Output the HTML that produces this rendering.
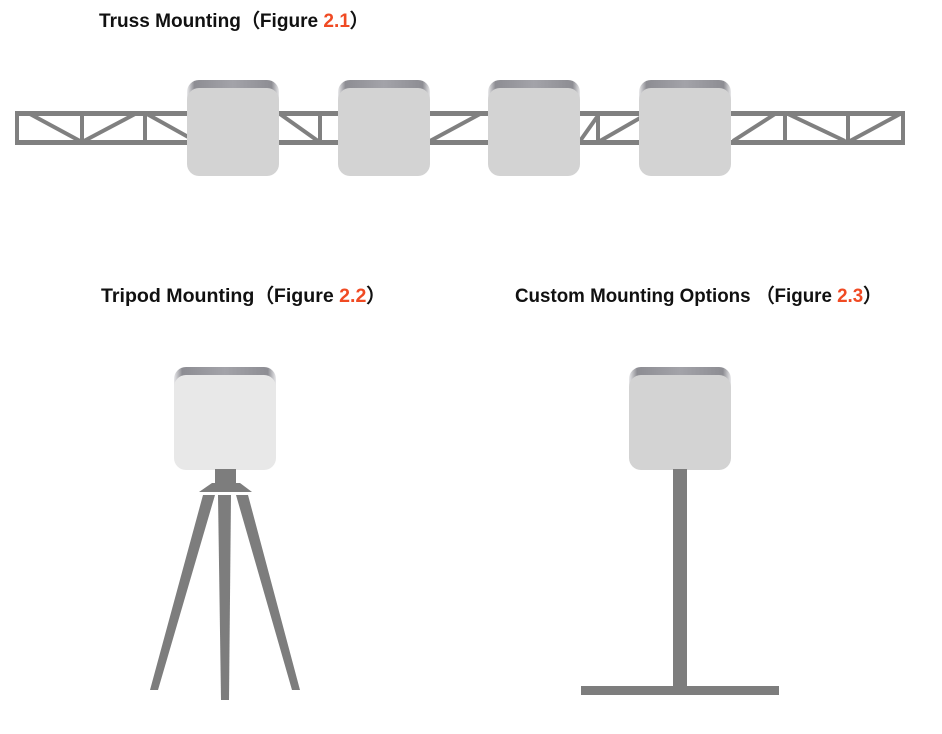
<!DOCTYPE html>
<html><head><meta charset="utf-8"><style>
body{margin:0;background:#fff;width:942px;height:729px;overflow:hidden}
.t{font-family:"Liberation Sans Narrow","Liberation Sans",sans-serif;font-weight:bold;font-size:19px;fill:#111}
.r{fill:#f04a23}
</style></head><body>
<svg width="942" height="729" viewBox="0 0 942 729">
<defs>
<linearGradient id="m" x1="0" y1="0" x2="1" y2="0">
<stop offset="0" stop-color="#e8e8ea"/><stop offset="0.08" stop-color="#8d8d93"/><stop offset="0.5" stop-color="#a3a3a9"/><stop offset="0.92" stop-color="#8d8d93"/><stop offset="1" stop-color="#e8e8ea"/>
</linearGradient>
<g id="dev">
<rect x="0" y="0" width="92" height="30" rx="12" fill="url(#m)"/>
<rect x="0" y="8" width="92" height="88" rx="12" fill="#d3d3d3"/>
</g>
<g id="devl">
<rect x="0" y="0" width="102" height="30" rx="12" fill="url(#m)"/>
<rect x="0" y="8" width="102" height="95" rx="12" fill="#e8e8e8"/>
</g>
<g id="devc">
<rect x="0" y="0" width="102" height="30" rx="12" fill="url(#m)"/>
<rect x="0" y="8" width="102" height="95" rx="12" fill="#d3d3d3"/>
</g>
</defs>
<text class="t" x="99" y="27" textLength="270" lengthAdjust="spacingAndGlyphs">Truss Mounting（Figure <tspan class="r">2.1</tspan>）</text>
<text class="t" x="101" y="302" textLength="285" lengthAdjust="spacingAndGlyphs">Tripod Mounting（Figure <tspan class="r">2.2</tspan>）</text>
<text class="t" x="515" y="302" textLength="367" lengthAdjust="spacingAndGlyphs">Custom Mounting Options （Figure <tspan class="r">2.3</tspan>）</text>
<!-- truss -->
<g fill="#808080" stroke="none">
<rect x="15" y="111" width="890" height="5"/>
<rect x="15" y="140" width="890" height="5"/>
<rect x="15" y="111" width="4" height="34"/>
<rect x="901" y="111" width="4" height="34"/>
</g>
<g stroke="#808080" stroke-width="4">
<line x1="82" y1="113" x2="82" y2="143"/><line x1="145" y1="113" x2="145" y2="143"/>
<line x1="320" y1="113" x2="320" y2="143"/><line x1="598" y1="113" x2="598" y2="143"/>
<line x1="785" y1="113" x2="785" y2="143"/><line x1="848" y1="113" x2="848" y2="143"/>
<line x1="30" y1="114" x2="80" y2="141"/>
<line x1="84" y1="141" x2="135" y2="114"/>
<line x1="147" y1="114" x2="190" y2="138"/>
<line x1="280" y1="114" x2="318" y2="141"/>
<line x1="430" y1="141" x2="480" y2="114"/>
<line x1="580" y1="141" x2="597" y2="117"/>
<line x1="600" y1="141" x2="640" y2="118"/>
<line x1="733" y1="141" x2="775" y2="114"/>
<line x1="788" y1="114" x2="845" y2="141"/>
<line x1="850" y1="141" x2="900" y2="114"/>
</g>
<use href="#dev" x="187" y="80"/>
<use href="#dev" x="338" y="80"/>
<use href="#dev" x="488" y="80"/>
<use href="#dev" x="639" y="80"/>
<!-- tripod -->
<use href="#devl" x="174" y="367"/>
<g fill="#7d7d7d">
<rect x="215" y="469" width="21" height="18"/>
<polygon points="212,483 240,483 252,492 199,492"/>
<polygon points="218,495 231,495 229,700 221,700"/>
<polygon points="203,495 215,495 158,690 150,690"/>
<polygon points="236,495 248,495 300,690 292,690"/>
</g>
<!-- custom -->
<use href="#devc" x="629" y="367"/>
<g fill="#7d7d7d">
<rect x="673" y="469" width="14" height="220"/>
<rect x="581" y="686" width="198" height="9"/>
</g>
</svg>
</body></html>
